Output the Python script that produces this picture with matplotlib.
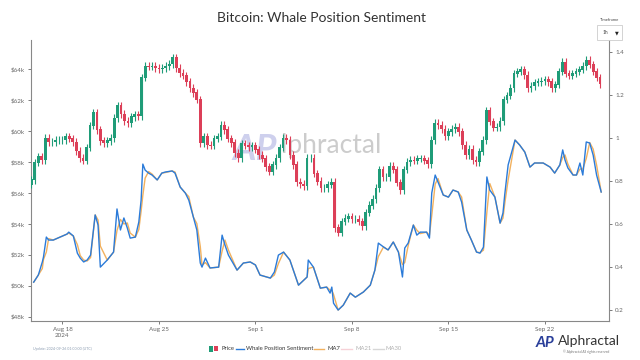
import numpy as np
import pandas as pd
import matplotlib
matplotlib.use("Agg")
import matplotlib.pyplot as plt
import matplotlib.dates as mdates
from matplotlib.lines import Line2D
from matplotlib.patches import Rectangle

plt.rcParams['font.family'] = ['Lato', 'DejaVu Sans']

start = pd.Timestamp("2024-08-15 18:00")

# BTC close every 6 hours (USD)
price_close = [
    56830, 57930, 58320, 58120, 59540, 59280, 59280, 59410, 59410, 59410,
    59610, 59480, 59280, 58700, 58250, 58060, 58900, 60320, 61160, 60060,
    59350, 59220, 59350, 59540, 60830, 61610, 61090, 60640, 60510, 60900,
    61030, 60960, 63420, 64190, 64130, 64190, 64060, 64000, 64060, 64190,
    64320, 64710, 64060, 63740, 63550, 63160, 62770, 62450, 62000, 59220,
    59610, 59090, 59030, 59480, 59610, 60380, 60060, 59480, 59220, 58570,
    58250, 59160, 59030, 58960, 59030, 58770, 58440, 58190, 57670, 57350,
    57800, 58250, 58900, 59540, 59410, 58440, 57800, 56700, 56570, 56440,
    58250, 58250, 57220, 56760, 56310, 56310, 56510, 56700, 53730, 53410,
    54120, 54370, 54440, 54310, 54310, 54120, 53860, 54700, 55210, 55600,
    56310, 57480, 57020, 57020, 57730, 57480, 56640, 56180, 57480, 57990,
    58120, 58060, 58190, 58190, 58060, 57860, 59410, 60510, 60380, 60120,
    59670, 59930, 60120, 60250, 59930, 59090, 58440, 58830, 58120, 57990,
    58640, 59410, 61290, 60580, 60190, 60250, 60640, 62000, 62260, 62770,
    63680, 63810, 63940, 63610, 62770, 62900, 63100, 63160, 63220, 63290,
    63160, 62770, 62970, 63810, 64450, 63680, 63550, 63680, 63810, 63940,
    64190, 64580, 64260, 63810, 63420, 63030,
]

# whale position sentiment: hours after start, value
sent_hours = [
    4, 12, 19, 21, 26, 30, 38, 50, 62, 65,
    73, 80, 85, 91, 97, 103, 111, 116, 120, 132,
    143, 149, 155, 161, 167, 172, 181, 187, 191, 194,
    198, 204, 210, 219, 227, 233, 245, 250, 259, 268,
    274, 282, 288, 294, 297, 303, 311, 326, 332, 337,
    343, 358, 369, 381, 390, 398, 416, 423, 430, 439,
    450, 465, 480, 482, 491, 503, 514, 520, 523, 526,
    534, 543, 555, 564, 578, 590, 598, 604, 613, 621,
    630, 639, 646, 650, 656, 665, 671, 677, 688, 693,
    697, 703, 708, 717, 726, 734, 743, 749, 758, 766,
    775, 781, 787, 793, 798, 807, 816, 821, 824, 830,
    842, 850, 859, 868, 876, 891, 903, 911, 920, 925,
    929, 934, 943, 949, 955, 960, 966, 972, 978, 984,
    992,
]
sent_values = [
    0.330, 0.363, 0.424, 0.447, 0.540, 0.526, 0.526, 0.540, 0.554, 0.563,
    0.545, 0.465, 0.442, 0.424, 0.433, 0.456, 0.643, 0.596, 0.400, 0.433,
    0.470, 0.671, 0.573, 0.629, 0.582, 0.535, 0.540, 0.610, 0.712, 0.880,
    0.852, 0.838, 0.829, 0.806, 0.838, 0.843, 0.848, 0.838, 0.773, 0.745,
    0.712, 0.633, 0.573, 0.419, 0.400, 0.442, 0.396, 0.400, 0.549, 0.503,
    0.456, 0.386, 0.419, 0.424, 0.410, 0.363, 0.349, 0.377, 0.456, 0.470,
    0.433, 0.316, 0.354, 0.433, 0.400, 0.302, 0.307, 0.279, 0.307, 0.232,
    0.200, 0.223, 0.279, 0.260, 0.284, 0.316, 0.386, 0.512, 0.494, 0.480,
    0.517, 0.470, 0.354, 0.489, 0.512, 0.596, 0.549, 0.563, 0.563, 0.535,
    0.745, 0.829, 0.796, 0.736, 0.726, 0.759, 0.750, 0.703, 0.573, 0.526,
    0.470, 0.465, 0.493, 0.820, 0.759, 0.726, 0.605, 0.652, 0.736, 0.876,
    0.992, 0.969, 0.936, 0.866, 0.885, 0.885, 0.866, 0.838, 0.876, 0.946,
    0.899, 0.862, 0.829, 0.829, 0.885, 0.829, 0.983, 0.978, 0.922, 0.829,
    0.750,
]

tick_dates = ["2024-08-18", "2024-08-25", "2024-09-01", "2024-09-08", "2024-09-15", "2024-09-22"]
tick_labels = ["Aug 18\n2024", "Aug 25", "Sep 1", "Sep 8", "Sep 15", "Sep 22"]

GREEN = "#1f9c78"
RED = "#dc3f58"
BLUE = "#2b7bd9"
ORANGE = "#f2b15e"
GREY = "#666666"

price_times = start + pd.to_timedelta(np.arange(len(price_close)) * 6, unit="h")
close = np.array(price_close, dtype=float)
opens = np.r_[close[0] - 300, close[:-1]]
pad = 230
highs = np.maximum(opens, close) + pad
lows = np.minimum(opens, close) - pad
up = close >= opens

sent = pd.Series(sent_values, index=start + pd.to_timedelta(sent_hours, unit="h"))
ma7 = sent.rolling("8h", min_periods=1).mean()

fig = plt.figure(figsize=(6.4, 3.6), dpi=100)
ax = fig.add_axes([31 / 640, 39 / 360, 578 / 640, 281 / 360])
ax2 = ax.twinx()

# watermark behind everything
fig.text(232 / 640, 1 - 149 / 360, "AP", fontsize=26, fontweight="bold", color="#c6c8ea",
         ha="left", va="center", alpha=0.85, zorder=0, style="italic")
fig.text(281 / 640, 1 - 146 / 360, "lphractal", fontsize=19, color="#c4c4c4", ha="left",
         va="center", alpha=0.85, zorder=0)

# candles
tx = mdates.date2num(price_times)
cols = np.where(up, GREEN, RED)
ax.vlines(tx, lows, highs, colors=cols, linewidth=0.8, zorder=3)
ax.bar(tx, np.abs(close - opens) + 60, bottom=np.minimum(opens, close) - 30,
       width=0.2, color=cols, linewidth=0, zorder=3)

ax2.plot(ma7.index, ma7.values, color=ORANGE, linewidth=1.0, zorder=2)
ax2.plot(sent.index, sent.values, color=BLUE, linewidth=1.0, zorder=3)

ax.set_zorder(ax2.get_zorder() + 1)
ax.patch.set_visible(False)

ax.set_xlim(mdates.date2num(start) - 0.03, mdates.date2num(start) + 41.9)
ax.set_ylim(47720, 65870)
ax2.set_ylim(0.149, 1.458)

ax.set_yticks(np.arange(48000, 64001, 2000))
ax.set_yticklabels([f"${v // 1000}k" for v in range(48000, 64001, 2000)])
ax2.set_yticks([0.2, 0.4, 0.6, 0.8, 1.0, 1.2, 1.4])
ax2.set_yticklabels(["0.2", "0.4", "0.6", "0.8", "1", "1.2", "1.4"])
ax.set_xticks(mdates.date2num(pd.to_datetime(tick_dates)))
ax.set_xticklabels(tick_labels)

for a in (ax, ax2):
    a.tick_params(labelsize=4.5, colors=GREY, length=2.5, width=0.6, pad=2)
    for s in a.spines.values():
        s.set_color("#888888")
        s.set_linewidth(0.8)
    a.spines["top"].set_visible(False)
ax.spines["right"].set_visible(False)
ax2.spines["left"].set_visible(False)
ax2.spines["bottom"].set_visible(False)

fig.text(0.503, 0.95, "Bitcoin: Whale Position Sentiment", ha="center", va="center",
         fontsize=10, color="#333333")

# timeframe box
fig.text(610 / 640, 1 - 20 / 360, "Timeframe", fontsize=3, color="#444444", ha="center", va="center")
fig.add_artist(Rectangle((597 / 640, 1 - 40 / 360), 25 / 640, 15 / 360, transform=fig.transFigure,
                         facecolor="white", edgecolor="#cccccc", linewidth=0.6))
fig.text(603 / 640, 1 - 32.5 / 360, "1h", fontsize=3.5, color="#444444", ha="left", va="center")
fig.text(617 / 640, 1 - 32.5 / 360, "\u25BC", fontsize=3.5, color="#222222", ha="center", va="center",
         family="DejaVu Sans")

# legend along the bottom
ly = 1 - 349 / 360
fig.add_artist(Rectangle((209 / 640, ly - 3 / 360), 4 / 640, 6 / 360, transform=fig.transFigure,
                         facecolor=GREEN, edgecolor="none"))
fig.add_artist(Rectangle((214 / 640, ly - 2 / 360), 4 / 640, 5 / 360, transform=fig.transFigure,
                         facecolor=RED, edgecolor="none"))
fig.text(221 / 640, ly, "Price", fontsize=4.2, color="#333333", va="center")
legend_lines = [(236, 244, BLUE, 1.0, 246, "Whale Position Sentiment", "#333333"),
                (314, 324, ORANGE, 1.0, 327, "MA7", "#333333"),
                (341, 352, "#f1b3bd", 0.6, 355, "MA21", "#b0b0b0"),
                (373, 384, "#bdbdbd", 0.6, 386, "MA30", "#b0b0b0")]
for x0, x1, c, a, tx0, lab, tc in legend_lines:
    fig.add_artist(Line2D([x0 / 640, x1 / 640], [ly, ly], color=c, linewidth=1.0, alpha=a,
                          transform=fig.transFigure))
    fig.text(tx0 / 640, ly, lab, fontsize=4.2, color=tc, va="center")

fig.text(33 / 640, ly, "Update: 2024-09-26 01:00:00 (UTC)", fontsize=2.6, color="#8a9bb0", va="center")

# logo bottom right
fig.text(536 / 640, 1 - 343 / 360, "AP", fontsize=11, fontweight="bold", style="italic",
         color="#2a3f9a", va="center", ha="left")
fig.text(558 / 640, 1 - 341 / 360, "Alphractal", fontsize=10, color="#333333", va="center", ha="left")
fig.text(586 / 640, 1 - 352 / 360, "\u00a9 Alphractal All rights reserved", fontsize=2.4,
         color="#777777", va="center", ha="center")

fig.savefig("out.png", dpi=100)
